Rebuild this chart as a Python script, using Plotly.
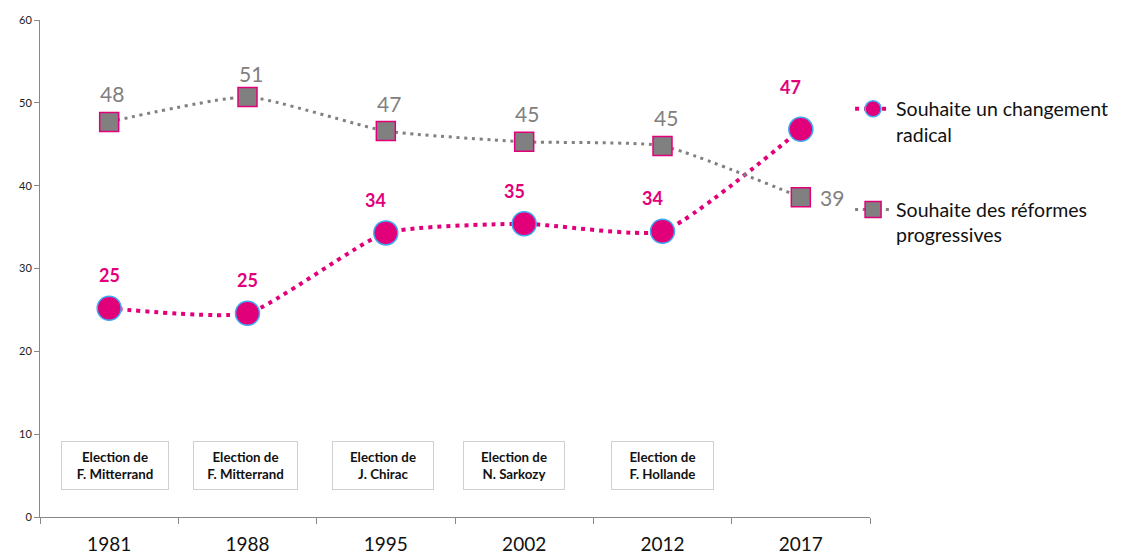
import plotly.graph_objects as go

years = ["1981", "1988", "1995", "2002", "2012", "2017"]
radical = [25.2, 24.6, 34.3, 35.4, 34.5, 46.8]
reformes = [47.7, 50.7, 46.6, 45.3, 44.8, 38.6]
radical_labels = ["25", "25", "34", "35", "34", "47"]
reformes_labels = ["48", "51", "47", "45", "45", "39"]
elections = ["Election de<br>F. Mitterrand", "Election de<br>F. Mitterrand",
             "Election de<br>J. Chirac", "Election de<br>N. Sarkozy",
             "Election de<br>F. Hollande"]
election_xshift = [6, -2, -3, -10, 0]
election_width = [98, 95, 92, 92, 93]

PINK = "#E2007A"
GRAY = "#808080"
FONT = "Lato"

fig = go.Figure()
fig.add_trace(go.Scatter(
    x=years, y=radical, name="Souhaite un changement<br>radical",
    mode="lines+markers", legendgroup="a",
    line=dict(color=PINK, width=4, dash="4px,5px", shape="spline", smoothing=0.5),
    marker=dict(symbol="circle", size=24, color=PINK, line=dict(color="#3FA9F5", width=1.5)),
))
fig.add_trace(go.Scatter(
    x=years, y=reformes, name="Souhaite des réformes<br>progressives",
    mode="lines+markers", legendgroup="b",
    line=dict(color=GRAY, width=3, dash="3px,4.7px", shape="spline", smoothing=0.5),
    marker=dict(symbol="square", size=19, color=GRAY, line=dict(color=PINK, width=1.5)),
))

annotations = []
for i, (v, lab) in enumerate(zip(radical, radical_labels)):
    annotations.append(dict(xref="x", yref="y", x=i, y=v, text="<b>" + lab + "</b>",
                            showarrow=False,
                            xshift=-10 if i > 1 else 0, yshift=42 if i == 5 else 33,
                            font=dict(family=FONT, size=18, color=PINK)))
for i, (v, lab) in enumerate(zip(reformes, reformes_labels)):
    if i == 5:
        annotations.append(dict(xref="x", yref="y", x=i, y=v, text=lab, showarrow=False,
                                xshift=31, yshift=0,
                                font=dict(family=FONT, size=21, color=GRAY)))
    else:
        annotations.append(dict(xref="x", yref="y", x=i, y=v, text=lab, showarrow=False,
                                xshift=3, yshift=24 if i == 1 else 28,
                                font=dict(family=FONT, size=21, color=GRAY)))
for i, txt in enumerate(elections):
    annotations.append(dict(xref="x", yref="y", x=i, y=6.16, text="<b>" + txt + "</b>",
                            showarrow=False,
                            xshift=election_xshift[i], width=election_width[i], height=39,
                            borderpad=4, bordercolor="#D0D0D0", borderwidth=1,
                            bgcolor="white",
                            font=dict(family=FONT, size=13.3, color="#111")))

fig.update_layout(
    width=1115, height=548,
    margin=dict(l=32, r=253, t=12, b=39, autoexpand=False),
    paper_bgcolor="white", plot_bgcolor="white",
    font=dict(family=FONT, color="#222"),
    annotations=annotations,
    legend=dict(x=0.976, y=0.86, xanchor="left", yanchor="top", valign="top",
                traceorder="grouped", tracegroupgap=47, itemwidth=36,
                font=dict(family=FONT, size=19.5, color="#111"), bgcolor="rgba(0,0,0,0)"),
    xaxis=dict(type="category", range=[-0.5, 5.5], showgrid=False, showline=True,
               linecolor="#888", linewidth=1, ticks="outside", tickson="boundaries",
               ticklen=6, tickcolor="#888", ticklabelstandoff=10, automargin=False,
               tickfont=dict(family=FONT, size=19, color="#111"), zeroline=False),
    yaxis=dict(range=[0, 60], tickvals=[0, 10, 20, 30, 40, 50, 60], showgrid=False,
               showline=True, linecolor="#888", linewidth=1, ticks="outside", ticklen=5,
               tickcolor="#888", automargin=False,
               tickfont=dict(family=FONT, size=11, color="#222"), zeroline=False),
)

fig.write_html("out.html")
